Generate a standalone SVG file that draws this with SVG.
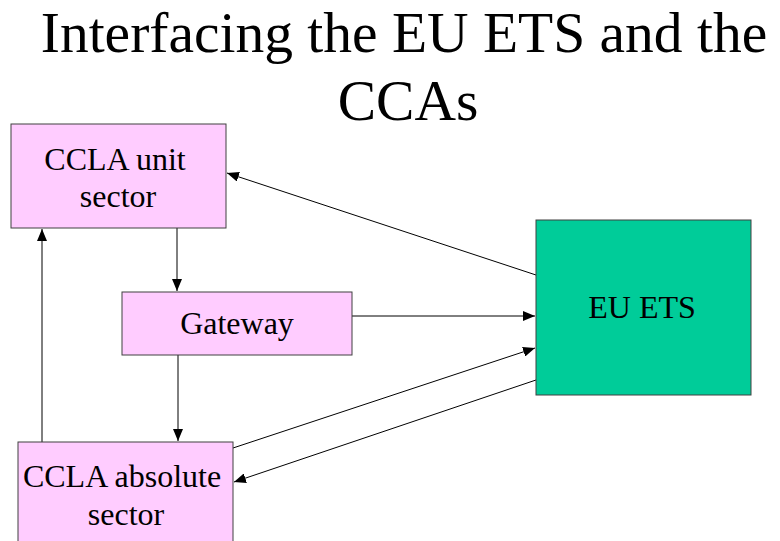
<svg xmlns="http://www.w3.org/2000/svg" width="780" height="541" viewBox="0 0 780 541">
<style>
.t{font-family:"Liberation Serif","Times New Roman",serif;fill:#000;text-anchor:middle}
.title{font-size:57.5px}
.lbl{font-size:32px}
.pink{fill:#FFCCFF;stroke:#404040;stroke-width:1}
.green{fill:#00CC99;stroke:#404040;stroke-width:1}
.c{stroke:#000;stroke-width:1;fill:none;marker-end:url(#ah)}
</style>
<defs>
<marker id="ah" markerWidth="12" markerHeight="10" refX="12" refY="5" orient="auto" markerUnits="userSpaceOnUse">
<path d="M0,0 L12,5 L0,10 Z" fill="#000"/>
</marker>
</defs>
<rect width="780" height="541" fill="#fff"/>
<text class="t title" x="404" y="52">Interfacing the EU ETS and the</text>
<text class="t title" x="408" y="120">CCAs</text>
<g id="connectors">
<line class="c" x1="536" y1="275" x2="227" y2="173"/>
<line class="c" x1="352" y1="316" x2="535" y2="316"/>
<line class="c" x1="233" y1="448" x2="535" y2="348"/>
<line class="c" x1="536" y1="380" x2="234" y2="482"/>
<line class="c" x1="177" y1="228" x2="177" y2="291"/>
<line class="c" x1="178" y1="355" x2="178" y2="441"/>
<line class="c" x1="42" y1="442" x2="42" y2="229"/>
</g>
<g id="ccla-unit">
<rect class="pink" x="11" y="124" width="215" height="104"/>
<text class="t lbl" x="115" y="170">CCLA unit</text>
<text class="t lbl" x="118" y="207">sector</text>
</g>
<g id="gateway">
<rect class="pink" x="122" y="292" width="230" height="63"/>
<text class="t lbl" x="237" y="334">Gateway</text>
</g>
<g id="ccla-absolute">
<rect class="pink" x="18" y="442" width="215" height="110"/>
<text class="t lbl" x="122" y="487">CCLA absolute</text>
<text class="t lbl" x="126" y="525">sector</text>
</g>
<g id="eu-ets">
<rect class="green" x="536" y="220" width="215" height="175"/>
<text class="t lbl" x="642" y="318">EU ETS</text>
</g>
</svg>
